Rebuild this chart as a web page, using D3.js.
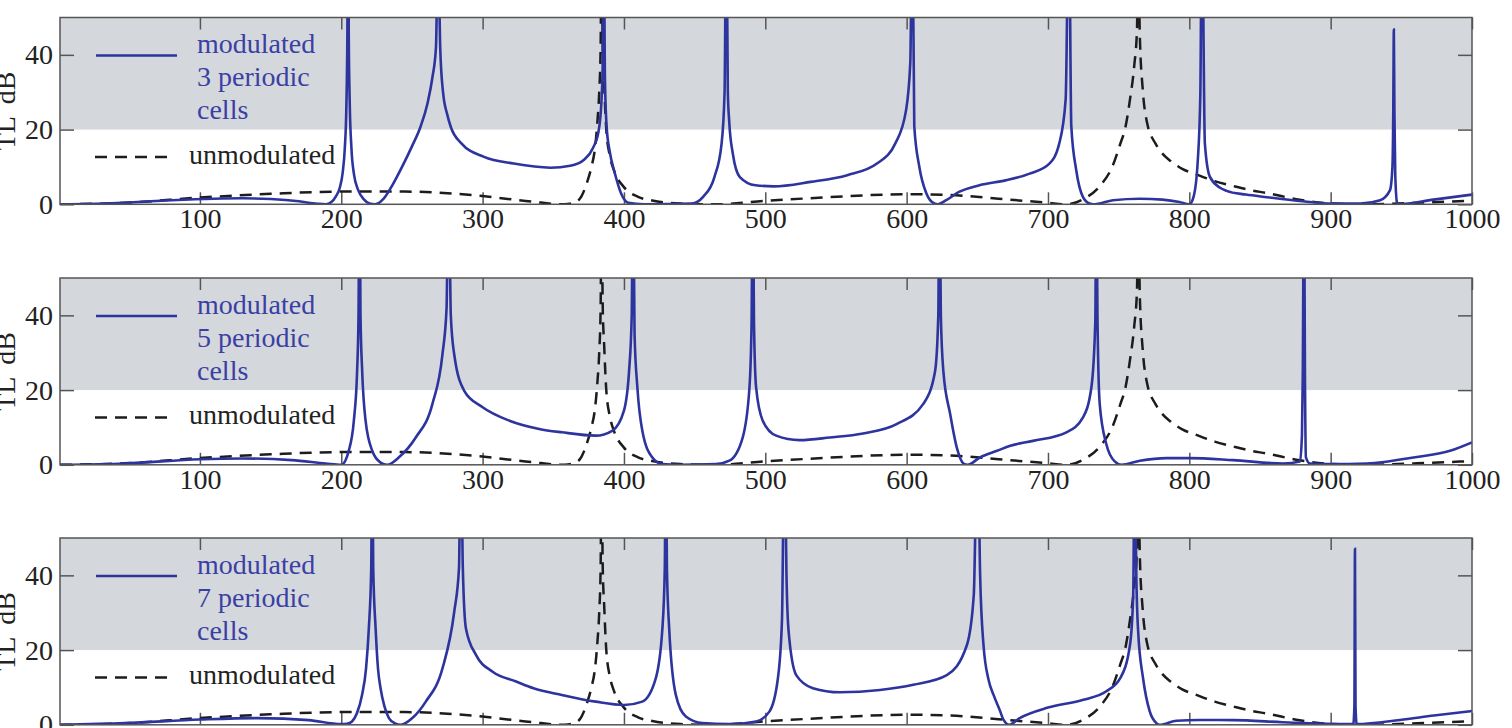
<!DOCTYPE html>
<html lang="en">
<head>
<meta charset="utf-8" />
<title>TL modulated vs unmodulated</title>
<style>
   body { margin:0; background:#fff; }
   text { font-family:"Liberation Serif","DejaVu Serif",serif; font-size:28px; fill:#222; }
   .frame { fill:none; stroke:#555; stroke-width:1.5; }
   .tick line { stroke:#555; stroke-width:1.5; }
   .band { fill:#d4d7dc; }
   .mod { fill:none; stroke:#2d349e; stroke-width:2.6; }
   .unmod { fill:none; stroke:#1c1c1c; stroke-width:2.5; stroke-dasharray:12,8; }
   .modtxt { fill:#3a40a3; }
</style>
<script src="https://d3js.org/d3.v7.min.js"></script>
</head>
<body>
<svg id="main" width="1512" height="728"></svg>
<script>
// [frequency, TL dB]
var unmodulated = [
   [1,0],[50,0.45],[100,1.8],[150,2.8],[200,3.4],[245,3.4],[300,2.2],[335,0.7],[358,0],[366,0.6],
   [370,2.2],[374,6],[377,10],[379.5,15],[381.2,22],[382.5,30],[383.5,42],[384.1,70],[385,42],
   [386,32],[387.5,20],[390,13],[393,9],[400,4.6],[410,2],[420,1],[440,0.2],[465,0],[500,0.9],
   [545,1.9],[600,2.7],[630,2.5],[665,1.5],[700,0.4],[713,0],[725,1.4],[737,5],[746,10.5],
   [751,16],[755,21],[758,28],[761,37],[763,47],[763.7,70],[765,45],[767,31],[770,22],
   [776,16.3],[780,14],[787,11.5],[795,9.5],[805,8],[818,6.2],[830,5],[843,3.8],[855,3],
   [878,1.2],[902,0.2],[925,0],[961,0.4],[1000,1]
];
var cells3 = [
   [1,0],[20,0.1],[50,0.5],[80,1.1],[110,1.5],[130,1.6],[150,1.4],[170,0.8],[183,0.15],[189,0],
   [193,0.6],[196,2],[199,4.5],[201,8.5],[202.5,15],[203.6,26],[204.3,45],[204.8,80],[205.3,45],
   [206,27],[207.2,15],[209,8],[212,3.8],[216,1.3],[220,0.2],[224,0],[230,1.5],[236,5],[243,10],
   [250,15.5],[256,20.7],[261,27],[264.5,34],[267,42],[268.5,70],[270,42],[272,30],[275,24],
   [277.5,20.7],[285,16.3],[301,12.7],[322,10.9],[348,9.8],[362,10.3],[372,12],[378,15],[382,19.5],
   [384,27],[385,38],[385.6,80],[386.5,35],[387.7,21],[390,14],[393,9.1],[398,2.9],[403,0.4],
   [414,0],[448,0.2],[456,2],[464,7.3],[469,16],[471.2,30],[472.4,80],[473.5,30],[474.5,22],
   [477,13.6],[482,7.3],[493,5.1],[506,4.8],[532,6],[558,7.8],[579,10.9],[592,16.3],[599.5,25],
   [602.6,38],[604,80],[605.4,21],[609,10],[614,2.9],[619.6,0.2],[622,0],[628,1.1],[637,3.3],
   [651.5,5.1],[670,6.4],[687,8.2],[701,10.9],[708,16.3],[712.5,28],[714.8,80],[716.5,21],
   [720,9.1],[724.7,2],[729.4,0.2],[732,0],[746,1.1],[765,1.5],[781,1.25],[793,0.6],[800,0],
   [803,2],[806,11.8],[807.8,29.6],[808.9,80],[811,16.3],[814.5,7.4],[821.5,4.5],[826.4,3.6],
   [840,2.6],[855,1.9],[878,0.9],[902,0.2],[921,0.2],[935,1.1],[942,3.8],[943.7,10],[944.3,25],
   [944.7,46.8],[945.1,25],[945.7,8],[947,0.4],[948,0],[972.8,1.25],[1000,2.6]
];
var cells5 = [
   [1,0],[47,0.35],[100,1.5],[130,1.7],[165,1.25],[189,0.35],[200,0],[205.3,3.75],[208.9,11.8],
   [211.2,25],[212.2,40],[212.9,80],[213.6,40],[214.8,25],[217.2,11.8],[221.9,3.75],[227.8,0.6],
   [232.5,0],[240.8,2],[252.7,7.3],[264.5,16.3],[271.6,29.6],[274.5,42],[275.9,80],[277.5,40],
   [279.9,29.6],[287,19.8],[300,15.4],[319,11.8],[340,9.6],[356,8.7],[380,7.8],[391.7,9.1],
   [400,14.5],[403.6,25],[405.5,40],[406.4,80],[407.5,35],[409.5,20.7],[413,9.1],[420,2],
   [427,0.2],[439,0],[465,0.2],[474.6,1.1],[484,7.3],[488.8,20.7],[490.3,38],[491.1,80],[492,38],
   [493.5,20.7],[498.2,11.8],[507.7,7.8],[524.3,6.6],[545.6,7.3],[569.2,8.4],[592.9,10.9],
   [611.8,16.3],[620.1,25],[622.4,40],[623.2,80],[624.2,40],[626,25],[630.8,13.6],[635.5,4.6],
   [640.2,0.35],[643.1,0],[652,2],[664,3.75],[673.4,5.1],[689.4,6.4],[713,8.7],[724.8,12.7],
   [730.7,20.7],[733.5,38.6],[734.2,80],[735,40],[736.6,16.3],[741.3,5.5],[747.2,0.9],[752,0],
   [765,1.1],[784,1.8],[800,1.8],[831,1.25],[866.5,0.35],[878.3,0.9],[879.7,8],[880.3,25],
   [881.1,80],[881.8,25],[882.5,2],[885.4,0.35],[900,0.2],[925.5,0.35],[961,2.1],[984.5,3.75],
   [1000,6]
];
var cells7 = [
   [1,0],[47,0.45],[100,1.4],[141,1.8],[177,1.25],[200,0.2],[204,0.3],[207.6,0.9],[211,3],
   [214.7,8],[217.5,15],[219.5,25.8],[221.2,42],[221.9,80],[222.6,42],[224.3,25.8],[226,15],
   [227.8,9.8],[230.5,5],[233.7,1.8],[238,0.4],[242,0],[250.3,1.8],[259.8,6.2],[271.6,15.1],
   [279.9,30.2],[283.3,42],[284.6,80],[286,42],[288.2,25.8],[295.3,18.7],[307.1,14.2],
   [323.7,11.6],[336,9.8],[356,8],[380,6.2],[400,5.3],[413,6.2],[422.5,12.4],[427.2,25.8],
   [428.9,42],[429.6,80],[430.4,42],[432,25.8],[436.7,8],[443.8,2.2],[455.6,0.45],[474.6,0.2],
   [493.5,0.9],[503,3.6],[508.9,12.4],[511.8,28],[513.6,80],[515,40],[516.5,25],[521.9,13.3],
   [533.7,9.8],[552.7,8.7],[581.1,9.3],[604.7,10.7],[628.4,13.3],[642.6,21.3],[647.5,34.7],
   [650.2,80],[652,40],[654.4,21.3],[658,12],[661.5,8],[665.8,4],[668.6,1.3],[672.5,0],[680,1.8],
   [700,4.6],[725,6.7],[741,8.9],[751,12.4],[758,21.3],[760.3,34.7],[761.4,80],[762.5,40],
   [763.8,25],[767.3,12.4],[772,3.6],[776.7,0.45],[779,0],[791,1.1],[807,1.3],[831,1.25],
   [866,0.7],[902,0.2],[916,0.2],[916.8,5],[917.2,47.1],[917.6,5],[918.4,0.2],[949,1.3],
   [973,2.5],[1000,3.7]
];
var panelSeries = [cells3, cells5, cells7];
var panelCells = ['3 periodic', '5 periodic', '7 periodic'];
var xTicks = [100,200,300,400,500,600,700,800,900,1000];
var yTicks = [0,20,40];
var bandRange = [20,50];

var left = 60, right = 1472;
var panelTops = [17.5, 278, 538];
var panelH = 186.8;

var svg = d3.select('#main');
var x = d3.scaleLinear().domain([1,1000]).range([left,right]);

panelTops.forEach(function(top, i) {
   var y = d3.scaleLinear().domain([0,50]).range([top+panelH, top]);
   var g = svg.append('g');
   var cid = 'clip'+i;
   g.append('clipPath').attr('id',cid).append('rect')
      .attr('x',left).attr('y',top).attr('width',right-left).attr('height',panelH);

   g.append('rect').attr('class','band')
      .attr('x',left).attr('width',right-left)
      .attr('y',y(bandRange[1])).attr('height',y(bandRange[0])-y(bandRange[1]));

   // axes, ticks pointing inward
   var ax = g.append('g').attr('transform','translate(0,'+y(0)+')')
      .call(d3.axisBottom(x).tickValues(xTicks).tickSize(-12).tickPadding(4).tickFormat(d3.format('d')));
   var axt = g.append('g').attr('transform','translate(0,'+top+')')
      .call(d3.axisTop(x).tickValues(xTicks).tickSize(-12).tickFormat(''));
   var ay = g.append('g').attr('transform','translate('+left+',0)')
      .call(d3.axisLeft(y).tickValues(yTicks).tickSize(-14).tickPadding(7));
   var ayr = g.append('g').attr('transform','translate('+right+',0)')
      .call(d3.axisRight(y).tickValues(yTicks).tickSize(-14).tickFormat(''));
   [ax,axt,ay,ayr].forEach(function(a) {
      a.select('.domain').remove();
      a.attr('font-size',null).attr('font-family',null);
      a.selectAll('text').attr('fill',null);
   });

   g.append('text')
      .attr('transform','translate(15,'+(top+panelH/2)+') rotate(-90)')
      .attr('text-anchor','middle')
      .style('word-spacing','6px')
      .text('TL dB');

   var line = d3.line()
      .x(function(d) { return x(d[0]); })
      .y(function(d) { return y(d[1]); })
      .curve(d3.curveMonotoneX);
   var plot = g.append('g').attr('clip-path','url(#'+cid+')');
   plot.append('path').attr('class','unmod').attr('d',line(unmodulated));
   plot.append('path').attr('class','mod').attr('d',line(panelSeries[i]));

   g.append('rect').attr('class','frame')
      .attr('x',left).attr('y',top).attr('width',right-left).attr('height',panelH);

   // legend
   var lg = g.append('g').attr('transform','translate(0,'+top+')');
   lg.append('line').attr('class','mod').attr('x1',96).attr('x2',177).attr('y1',38).attr('y2',38);
   var t = lg.append('text').attr('class','modtxt').attr('x',197).attr('y',35.5);
   t.append('tspan').attr('x',197).text('modulated');
   t.append('tspan').attr('x',197).attr('dy',33).text(panelCells[i]);
   t.append('tspan').attr('x',197).attr('dy',33).text('cells');
   lg.append('line').attr('class','unmod').attr('x1',95).attr('x2',172).attr('y1',139.5).attr('y2',139.5);
   lg.append('text').attr('x',189).attr('y',146).text('unmodulated');
});
</script>
</body>
</html>
